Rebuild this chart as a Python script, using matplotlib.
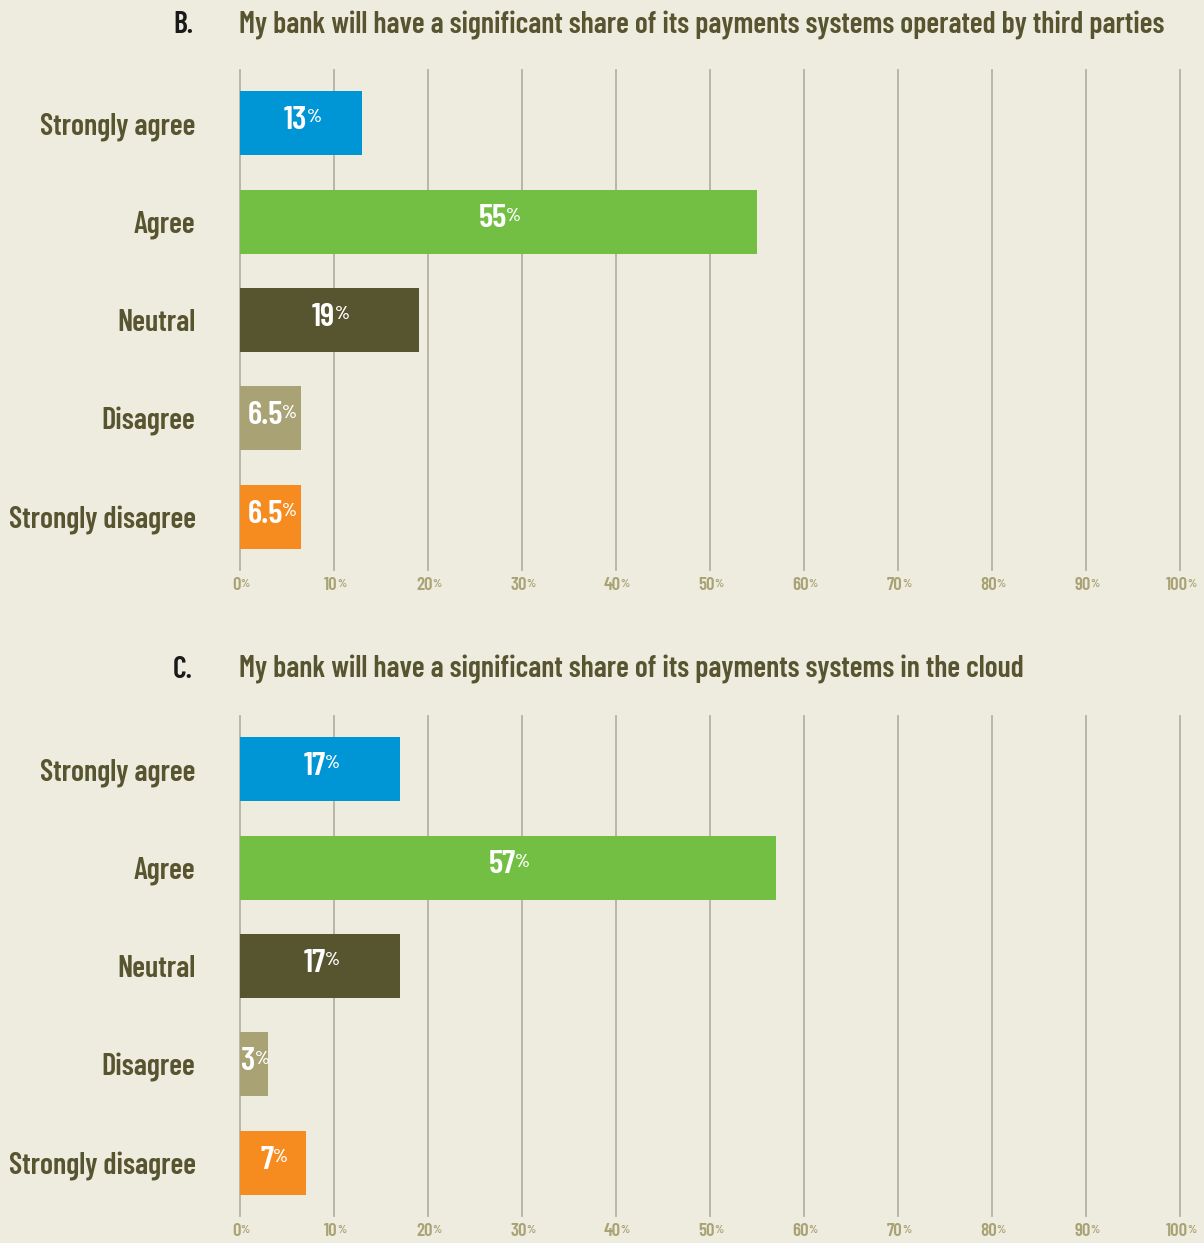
import matplotlib.pyplot as plt
from matplotlib.transforms import blended_transform_factory

# datos
categorias = ['Strongly agree', 'Agree', 'Neutral', 'Disagree', 'Strongly disagree']
valores_b = [13, 55, 19, 6.5, 6.5]
valores_c = [17, 57, 17, 3, 7]
etiquetas_b = ['13', '55', '19', '6.5', '6.5']
etiquetas_c = ['17', '57', '17', '3', '7']
titulo_b = 'My bank will have a significant share of its payments systems operated by third parties'
titulo_c = 'My bank will have a significant share of its payments systems in the cloud'
ticks_x = [0, 10, 20, 30, 40, 50, 60, 70, 80, 90, 100]

colores = ['#0096d6', '#72bf44', '#575430', '#a8a274', '#f68b1f']
fondo = '#eeebdf'
oliva = '#575430'
tan = '#a8a274'
rejilla = '#b5b2a3'
FUENTE = ['Barlow Condensed', 'DejaVu Sans']

W, H = 1204, 1243
fig = plt.figure(figsize=(W / 100, H / 100), dpi=100)
fig.patch.set_facecolor(fondo)


def panel(top_px, valores, etiquetas, letra, titulo, titulo_y):
    ax = fig.add_axes([240 / W, (H - top_px - 500) / H, 940 / W, 500 / H])
    ax.set_facecolor(fondo)
    ys = list(range(len(categorias)))
    for x in ticks_x:
        ax.axvline(x, color=rejilla, lw=1.3, zorder=1, clip_on=False)
    ax.barh(ys, valores, height=0.65, color=colores, zorder=2)
    ax.set_xlim(0, 100)
    ax.set_ylim(len(categorias) - 0.46, -0.54)
    for s in ax.spines.values():
        s.set_visible(False)
    ax.set_xticks([])
    ax.set_yticks(ys)
    ax.set_yticklabels(categorias, family=FUENTE, fontweight=600,
                       fontsize=21.7, color=oliva)
    ax.tick_params(axis='y', length=0, pad=32)

    # etiquetas de barras
    for y, v, et in zip(ys, valores, etiquetas):
        t = ax.annotate(et, xy=(v / 2, y), xytext=(-4, 2), textcoords='offset points',
                        ha='center', va='center', color='white', fontsize=24,
                        fontweight=600, family=FUENTE, zorder=3)
        ax.annotate('%', xy=(1.0, 0.88), xycoords=t, xytext=(-0.5, 0),
                    textcoords='offset points', ha='left', va='top',
                    color='white', fontsize=14, fontweight=600,
                    family=FUENTE, zorder=3)

    # etiquetas del eje x
    tr = blended_transform_factory(ax.transData, ax.transAxes)
    for x in ticks_x:
        t = ax.annotate(str(x), xy=(x, 0), xycoords=tr, xytext=(-2.5, -11),
                        textcoords='offset points', ha='center', va='center',
                        color=tan, fontsize=13.5, fontweight=600, family=FUENTE)
        ax.annotate('%', xy=(1.0, 0.85), xycoords=t, xytext=(-0.3, 0),
                    textcoords='offset points', ha='left', va='top',
                    color=tan, fontsize=8.5, fontweight=600, family=FUENTE)

    fig.text(193 / W, 1 - titulo_y / H, letra, ha='right', va='center',
             fontsize=21.5, fontweight=600, color='#1a1a1a', family=FUENTE)
    fig.text(239 / W, 1 - titulo_y / H, titulo, ha='left', va='center',
             fontsize=21.5, fontweight=600, color=oliva, family=FUENTE)
    return ax


panel(70, valores_b, etiquetas_b, 'B.', titulo_b, 25)
panel(716, valores_c, etiquetas_c, 'C.', titulo_c, 670)

fig.savefig('out.png', dpi=100, facecolor=fondo)
